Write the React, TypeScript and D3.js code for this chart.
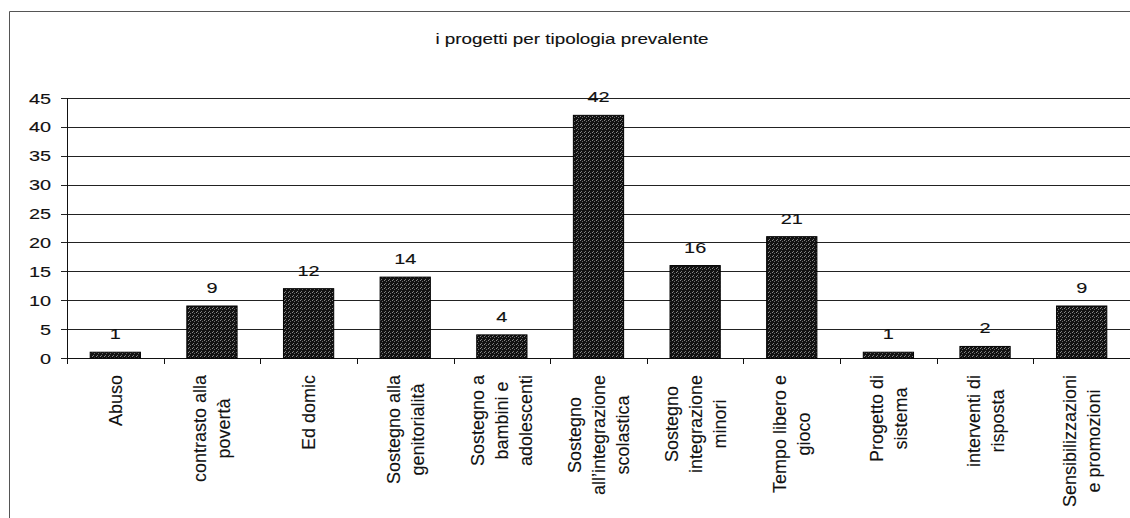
import React from "react";
import * as d3 from "d3";

const TITLE = "i progetti per tipologia prevalente";
const categories = [
  "Abuso",
  "contrasto alla\npovertà",
  "Ed domic",
  "Sostegno alla\ngenitorialità",
  "Sostegno a\nbambini e\nadolescenti",
  "Sostegno\nall’integrazione\nscolastica",
  "Sostegno\nintegrazione\nminori",
  "Tempo libero e\ngioco",
  "Progetto di\nsistema",
  "interventi di\nrisposta",
  "Sensibilizzazioni\ne promozioni",
];
const values = [1, 9, 12, 14, 4, 42, 16, 21, 1, 2, 9];
const yTicks = [0, 5, 10, 15, 20, 25, 30, 35, 40, 45];

const W = 1130;
const H = 518;
const FONT = "'Liberation Sans', Arial, Helvetica, sans-serif";
const CAT_FONT_SIZE = 18;
const STRETCH = 1.3;

let ctx: CanvasRenderingContext2D | null = null;
function measure(t: string, size: number) {
  if (!ctx) {
    const c = document.createElement("canvas");
    ctx = c.getContext("2d");
  }
  if (!ctx) return t.length * size * 0.5;
  ctx.font = `${size}px 'Liberation Sans', Arial, sans-serif`;
  return ctx.measureText(t).width;
}

export default function App() {
  const left = 67;
  const right = 1130;
  const top = 98;
  const bottom = 358;

  const x = d3
    .scaleBand<number>()
    .domain(d3.range(categories.length))
    .range([left, right])
    .paddingInner(0.48)
    .paddingOuter(0.24);
  const step = (right - left) / categories.length;
  const y = d3.scaleLinear().domain([0, 45]).range([bottom, top]);

  const boundaries = d3.range(categories.length + 1).map((i) => left + i * step);
  const textStroke = { stroke: "#111", strokeWidth: 0.12 };

  return (
    <svg
      width={W}
      height={H}
      style={{ position: "absolute", left: 0, top: 0, background: "#fff" }}
      fontFamily={FONT}
    >
      <defs>
        <pattern id="stip" width={4} height={4} patternUnits="userSpaceOnUse">
          <rect width={4} height={4} fill="#121212" />
          <rect x={0} y={0} width={1} height={1} fill="#8a8a8a" />
          <rect x={2} y={1} width={1} height={1} fill="#6a6a6a" />
          <rect x={1} y={3} width={1} height={1} fill="#7a7a7a" />
        </pattern>
      </defs>
      <rect width={W} height={H} fill="#fff" />
      {/* outer frame */}
      <line x1={9.5} y1={11.5} x2={W} y2={11.5} stroke="#555" strokeWidth={1} />
      <line x1={9.5} y1={11.5} x2={9.5} y2={H} stroke="#555" strokeWidth={1} />

      {/* title */}
      <text
        transform={`translate(572,44) scale(${STRETCH},1)`}
        textAnchor="middle"
        fontSize={14.5}
        fill="#111"
        {...textStroke}
      >
        {TITLE}
      </text>

      {/* gridlines + y ticks */}
      {yTicks.map((t) => (
        <g key={t}>
          <line
            x1={61}
            x2={right}
            y1={Math.round(y(t)) + 0.5}
            y2={Math.round(y(t)) + 0.5}
            stroke="#222"
            strokeWidth={1}
          />
          <text
            transform={`translate(51,${y(t)}) scale(${STRETCH},1)`}
            textAnchor="end"
            dy="0.36em"
            fontSize={15.3}
            fill="#111"
            {...textStroke}
          >
            {t}
          </text>
        </g>
      ))}

      {/* y axis */}
      <line x1={left + 0.5} x2={left + 0.5} y1={top} y2={bottom + 6} stroke="#111" />
      {/* x axis */}
      <line x1={left} x2={right} y1={bottom + 0.5} y2={bottom + 0.5} stroke="#111" />
      {boundaries.map((b, i) => (
        <line
          key={i}
          x1={Math.round(b) + 0.5}
          x2={Math.round(b) + 0.5}
          y1={bottom}
          y2={bottom + 6}
          stroke="#111"
        />
      ))}

      {/* bars */}
      {values.map((v, i) => (
        <rect
          key={i}
          x={x(i)}
          y={y(v)}
          width={x.bandwidth()}
          height={bottom - y(v)}
          fill="url(#stip)"
          stroke="#000"
          strokeWidth={1}
        />
      ))}

      {/* value labels */}
      {values.map((v, i) => (
        <text
          key={i}
          transform={`translate(${(x(i) as number) + x.bandwidth() / 2},${y(v) - 13}) scale(${STRETCH},1)`}
          textAnchor="middle"
          fontSize={15.3}
          fill="#111"
          {...textStroke}
        >
          {v}
        </text>
      ))}

      {/* category labels */}
      {categories.map((c, i) => {
        const lines = c.split("\n");
        const maxW = Math.max(...lines.map((l) => measure(l, CAT_FONT_SIZE)));
        const cx = left + (i + 0.5) * step;
        const pitch = 24;
        return (
          <g key={i} transform={`translate(${cx},375) rotate(-90)`}>
            {lines.map((l, j) => (
              <text
                key={j}
                x={-maxW / 2}
                y={(j - (lines.length - 1) / 2) * pitch}
                dy="0.36em"
                textAnchor="middle"
                fontSize={CAT_FONT_SIZE}
                fill="#111"
                {...textStroke}
              >
                {l}
              </text>
            ))}
          </g>
        );
      })}
    </svg>
  );
}
